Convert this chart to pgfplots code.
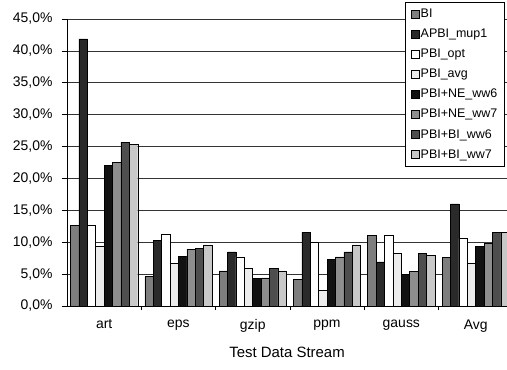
\documentclass[border=0pt]{standalone}
\usepackage{pgfplots}
\pgfplotsset{compat=1.18}
\usepackage{fontspec}
\setmainfont{Liberation Sans}
\definecolor{cBI}{HTML}{7E7E7E}
\definecolor{cAP}{HTML}{2A2A2A}
\definecolor{cOpt}{HTML}{FFFFFF}
\definecolor{cAvg}{HTML}{ECECEC}
\definecolor{cNEsix}{HTML}{121212}
\definecolor{cNEseven}{HTML}{8E8E8E}
\definecolor{cBIsix}{HTML}{4E4E4E}
\definecolor{cBIseven}{HTML}{C8C8C8}
\begin{document}
\begin{tikzpicture}
\useasboundingbox (-67bp,-64bp) rectangle (440bp,306bp);
\begin{axis}[at={(0bp,0bp)}, anchor=south west, scale only axis,
 width=440bp, height=287bp,
 ybar=0pt, bar width=8.4bp,
 xmin=-0.5, xmax=5.422, ymin=0, ymax=45,
 axis x line*=bottom, axis y line*=left,
 axis line style={black, line width=0.8pt},
 tick align=outside,
 xtick={0,...,5}, xticklabels={art,eps,gzip,ppm,gauss,Avg},
 major x tick style={draw=none},
 minor xtick={0.5,1.5,2.5,3.5,4.5},
 minor tick length=4bp,
 minor x tick style={black, line width=0.6pt},
 ytick={0,5,...,45},
 yticklabels={{0,0\%},{5,0\%},{10,0\%},{15,0\%},{20,0\%},{25,0\%},{30,0\%},{35,0\%},{40,0\%},{45,0\%}},
 major tick length=5bp,
 y tick style={black, line width=0.6pt},
 ymajorgrids, grid style={black!80, line width=0.6pt},
 ticklabel style={font=\fontsize{14}{16}\selectfont},
 yticklabel style={xshift=-6bp},
 xticklabel style={yshift=-5bp},
 xlabel={Test Data Stream},
 xlabel style={font=\fontsize{15}{17}\selectfont, yshift=-8bp},
 every axis plot/.append style={draw=black, line width=0.5pt},
 legend style={at={(0.9955,1.059)}, anchor=north east, draw=black, line width=0.6pt,
   font=\fontsize{12.5}{14}\selectfont, row sep=7bp, inner xsep=6bp, inner ysep=5bp,
   nodes={inner sep=1.5bp}},
 legend cell align=left,
 legend image code/.code={\draw[#1,draw=black,line width=0.4pt] (0bp,-4bp) rectangle (8bp,4bp);},
]
\addplot[fill=cBI] coordinates {(0,12.7) (1,4.6) (2,5.5) (3,4.2) (4,11.1) (5,7.6)};
\addplot[fill=cAP] coordinates {(0,41.9) (1,10.3) (2,8.5) (3,11.6) (4,6.9) (5,16.0)};
\addplot[fill=cOpt] coordinates {(0,12.7) (1,11.3) (2,7.7) (3,10.0) (4,11.1) (5,10.6)};
\addplot[fill=cAvg] coordinates {(0,9.3) (1,6.7) (2,5.9) (3,2.5) (4,8.3) (5,6.7)};
\addplot[fill=cNEsix] coordinates {(0,22.0) (1,7.8) (2,4.3) (3,7.3) (4,5.0) (5,9.4)};
\addplot[fill=cNEseven] coordinates {(0,22.5) (1,8.9) (2,4.4) (3,7.7) (4,5.4) (5,9.9)};
\addplot[fill=cBIsix] coordinates {(0,25.7) (1,9.0) (2,5.9) (3,8.5) (4,8.3) (5,11.5)};
\addplot[fill=cBIseven] coordinates {(0,25.3) (1,9.6) (2,5.5) (3,9.6) (4,7.9) (5,11.5)};
\legend{BI,APBI\_mup1,PBI\_opt,PBI\_avg,PBI+NE\_ww6,PBI+NE\_ww7,PBI+BI\_ww6,PBI+BI\_ww7}
\end{axis}
\end{tikzpicture}
\end{document}
